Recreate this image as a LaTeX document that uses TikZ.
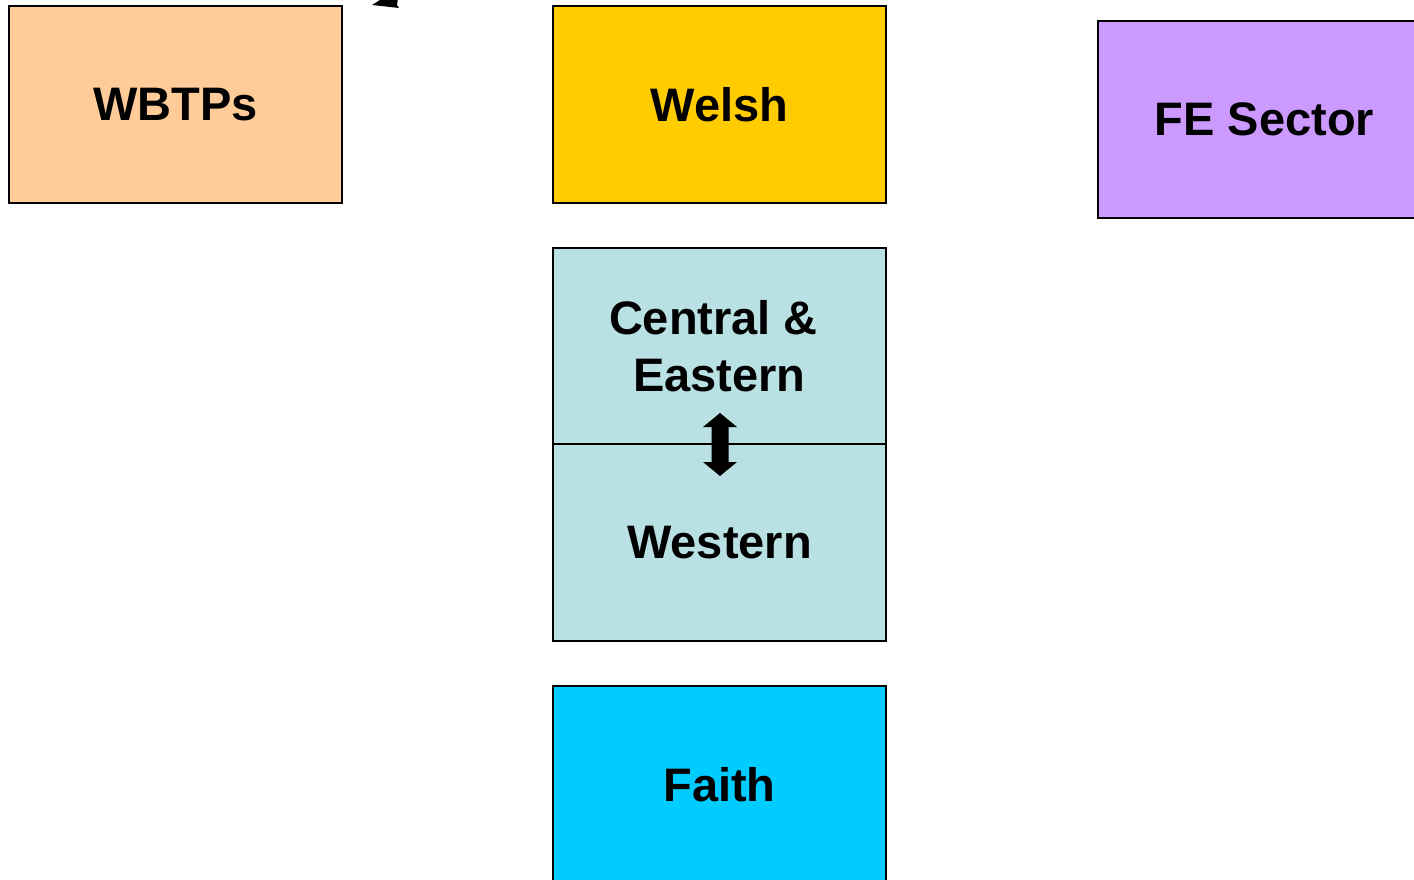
\documentclass[tikz,border=0pt]{standalone}
\usepackage{fontspec}
\setmainfont{Liberation Sans}
\definecolor{wbtp}{HTML}{FFCC99}
\definecolor{welsh}{HTML}{FFCC00}
\definecolor{fesec}{HTML}{CC99FF}
\definecolor{central}{HTML}{B9E0E3}
\definecolor{faith}{HTML}{00CCFF}
\tikzset{
  box/.style={draw=black, line width=1.6pt, minimum width=333pt, minimum height=197pt,
    inner sep=0pt, align=center, font=\fontsize{47}{56.5}\selectfont\bfseries},
}
\begin{document}
\begin{tikzpicture}[x=1pt,y=-1pt]
\useasboundingbox (0,0) rectangle (1414,880);
\clip (0,0) rectangle (1414,880);
\node[box, fill=wbtp] (wbtp) at (175.5,104.5) {\raisebox{-2pt}{WBTPs}};
\node[box, fill=welsh] (welsh) at (719.5,104.5) {\raisebox{-2pt}{Welsh}};
\node[box, fill=fesec] (fe) at (1264.5,119.5) {\raisebox{-2pt}{FE Sector}};
\node[box, fill=central, minimum height=196pt] (ce) at (719.5,346) {\hspace*{-12pt}\raisebox{-2pt}{Central \&}\\\raisebox{-2pt}{Eastern}};
\node[box, fill=central, minimum height=197pt] (west) at (719.5,542.5) {\raisebox{-7pt}{Western}};
\node[box, fill=faith] (faith) at (719.5,784.5) {\raisebox{-3pt}{Faith}};
% double block arrow between regions
\fill[black] (720,413) -- (737,427) -- (728.5,427) -- (728.5,462) -- (737,462) -- (720,476)
  -- (703,462) -- (711.5,462) -- (711.5,427) -- (703,427) -- cycle;
% partial arrowhead at top edge
\fill[black] (372,5) -- (383,-2) -- (398,-2) -- (397,5) -- (399,8) -- cycle;
\end{tikzpicture}
\end{document}
